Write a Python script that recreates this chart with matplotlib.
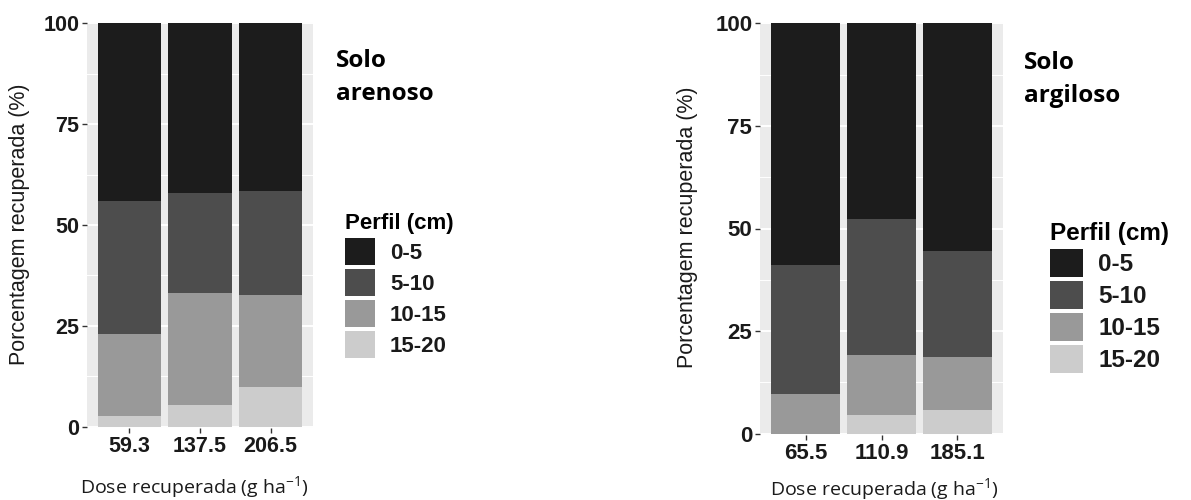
import matplotlib
matplotlib.use("Agg")
import matplotlib.pyplot as plt
from matplotlib.ticker import MultipleLocator

plt.rcParams['font.family'] = ['Liberation Sans', 'DejaVu Sans']
plt.rcParams['mathtext.default'] = 'regular'

layers = ["0-5", "5-10", "10-15", "15-20"]
colors = ["#1c1c1c", "#4d4d4d", "#999999", "#cccccc"]

# Solo arenoso
doses_arenoso = ["59.3", "137.5", "206.5"]
arenoso_0_5 = [44.0, 42.1, 41.5]
arenoso_5_10 = [33.1, 24.7, 25.8]
arenoso_10_15 = [20.2, 27.8, 22.8]
arenoso_15_20 = [2.7, 5.4, 9.9]

# Solo argiloso
doses_argiloso = ["65.5", "110.9", "185.1"]
argiloso_0_5 = [59.0, 47.8, 55.5]
argiloso_5_10 = [31.3, 32.9, 25.8]
argiloso_10_15 = [9.7, 14.7, 12.9]
argiloso_15_20 = [0.0, 4.6, 5.8]

yticks = [0, 25, 50, 75, 100]

fig = plt.figure(figsize=(11.91, 5.0), dpi=100)
W, H = 1191.0, 500.0


def panel(rect, doses, series, title_lines, title_xy, legend_xy, ylab_xy, xlab_xy,
          tick_fs, leg_fs, key_w, key_h, key_gap, text_pad):
    ax = fig.add_axes(rect)
    ax.set_facecolor("#ebebeb")
    x = list(range(len(doses)))
    bottom = [0.0] * len(doses)
    handles = {}
    for name, col, vals in reversed(list(zip(layers, colors, series))):
        bc = ax.bar(x, vals, width=0.9, bottom=bottom, color=col, linewidth=0, zorder=3)
        handles[name] = bc
        bottom = [b + v for b, v in zip(bottom, vals)]
    ax.set_xlim(-0.6, len(doses) - 0.4)
    ax.set_ylim(-0.3, 100.3)
    ax.set_xticks(x)
    ax.set_xticklabels(doses)
    ax.set_yticks(yticks)
    ax.yaxis.set_minor_locator(MultipleLocator(12.5))
    ax.grid(which='major', color='white', linewidth=1.4, zorder=0)
    ax.grid(which='minor', axis='y', color='white', linewidth=0.7, zorder=0)
    ax.set_axisbelow(True)
    for s in ax.spines.values():
        s.set_visible(False)
    ax.tick_params(axis='both', which='major', length=3.5, width=1, color='#333333',
                   labelsize=tick_fs, pad=2, labelcolor='#1a1a1a')
    ax.tick_params(axis='both', which='minor', length=0)
    for lab in ax.get_xticklabels() + ax.get_yticklabels():
        lab.set_fontweight('bold')

    fs_px = leg_fs * 100 / 72.0
    r = key_h / fs_px
    hh = (r - 0.245) / 0.65
    leg = ax.legend([handles[n] for n in layers], layers, title="Perfil (cm)",
                    loc='upper left', bbox_to_anchor=(legend_xy[0] / W, 1 - legend_xy[1] / H),
                    bbox_transform=fig.transFigure, frameon=False, borderpad=0,
                    borderaxespad=0,
                    handlelength=key_w / fs_px, handleheight=hh,
                    labelspacing=key_gap / fs_px,
                    handletextpad=text_pad / fs_px, alignment='left',
                    prop={'size': leg_fs, 'weight': 'bold'},
                    title_fontproperties={'size': leg_fs, 'weight': 'bold'})
    for t in leg.get_texts():
        t.set_color('#1a1a1a')

    fig.text(title_xy[0] / W, 1 - title_xy[1] / H, title_lines, ha='left', va='top',
             fontsize=17.5, fontweight='bold', family=['Open Sans', 'DejaVu Sans'],
             linespacing=1.5)
    fig.text(ylab_xy[0] / W, 1 - ylab_xy[1] / H, "Porcentagem recuperada (%)", rotation=90,
             ha='center', va='center', fontsize=15.5, color='#1a1a1a')
    fig.text(xlab_xy[0] / W, 1 - xlab_xy[1] / H, "Dose recuperada (g ha$^{-1}$)",
             ha='center', va='baseline', fontsize=14, family=['Open Sans', 'DejaVu Sans'],
             color='#1a1a1a')
    return ax


panel([87 / W, 1 - 428 / H, 226 / W, 406 / H], doses_arenoso,
      [arenoso_0_5, arenoso_5_10, arenoso_10_15, arenoso_15_20],
      "Solo\narenoso", (336, 49), (345, 213), (20, 224), (194, 493),
      15.5, 16, 30, 27, 4, 15)

panel([760 / W, 1 - 435 / H, 243 / W, 413 / H], doses_argiloso,
      [argiloso_0_5, argiloso_5_10, argiloso_10_15, argiloso_15_20],
      "Solo\nargiloso", (1024, 51), (1050, 222), (688, 227), (884, 495),
      16, 17.5, 33, 28, 4, 15)

fig.savefig("out.png", dpi=100, facecolor='white')
